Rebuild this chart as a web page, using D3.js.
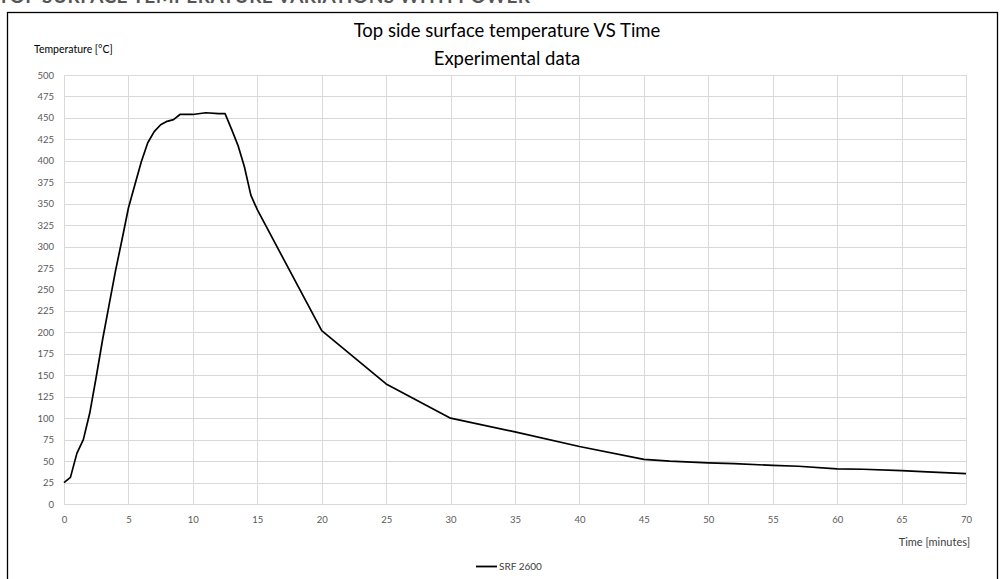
<!DOCTYPE html>
<html><head><meta charset="utf-8">
<script src="https://cdn.jsdelivr.net/npm/d3@7"></script>
<style>body{margin:0;background:#fff}svg{display:block}</style>
</head><body>
<script>
const timeMin = [0,0.5,1,1.5,2,2.5,3,3.5,4,4.5,5,5.5,6,6.5,7,7.5,8,8.5,9,10,11,12,12.5,13,13.5,14,14.5,15,20,25,30,35,40,45,47,50,52,55,57,60,62,65,67,70];
const tempC   = [25,31,59,75,106,148,192,232,272,308,345,372,399,421,434,442,446,448,454,454,456,455,455,437,418,393,360,343,202,140,100,84,67,52,50,48,47,45,44,41,40.5,39,37.5,35.5];
const xTicks = [0,5,10,15,20,25,30,35,40,45,50,55,60,65,70];
const yTicks = [0,25,50,75,100,125,150,175,200,225,250,275,300,325,350,375,400,425,450,475,500];
const titleLines = ["Top side surface temperature VS Time","Experimental data"];
const seriesName = "SRF 2600";

const W=1000,H=579;
const svg=d3.select("body").append("svg").attr("width",W).attr("height",H);
const font="Lato, 'Open Sans', sans-serif";

// cropped heading from the page above (only its lower edge shows)
svg.append("text").attr("x",-2).attr("y",3).attr("font-family",font).attr("font-weight","bold")
  .attr("font-size",19).attr("fill","#555").attr("textLength",532)
  .text("TOP SURFACE TEMPERATURE VARIATIONS WITH POWER");

svg.append("rect").attr("x",7.5).attr("y",12.5).attr("width",990).attr("height",620)
  .attr("fill","none").attr("stroke","#000").attr("stroke-width",1.3);

const x=d3.scaleLinear().domain([0,70]).range([64,966]);
const y=d3.scaleLinear().domain([0,500]).range([504,75]);

const g=svg.append("g");
g.selectAll(".hg").data(yTicks).join("line")
  .attr("x1",x(0)).attr("x2",x(70)).attr("y1",d=>Math.round(y(d))+0.5).attr("y2",d=>Math.round(y(d))+0.5)
  .attr("stroke","#d9d9d9").attr("stroke-width",1);
g.selectAll(".vg").data(xTicks).join("line")
  .attr("y1",y(0)).attr("y2",y(500)).attr("x1",d=>Math.round(x(d))+0.5).attr("x2",d=>Math.round(x(d))+0.5)
  .attr("stroke","#d9d9d9").attr("stroke-width",1);

const yAxis=d3.axisLeft(y).tickValues(yTicks).tickSize(0).tickPadding(10);
const ya=svg.append("g").attr("transform",`translate(${x(0)},0)`).call(yAxis);
const xAxis=d3.axisBottom(x).tickValues(xTicks).tickSize(0).tickPadding(12);
const xa=svg.append("g").attr("transform",`translate(0,${y(0)})`).call(xAxis);
[ya,xa].forEach(a=>{a.select(".domain").attr("stroke","#d9d9d9");
  a.selectAll("text").attr("font-family",font).attr("font-size",9.5).attr("fill","#595959");});

const line=d3.line().x((d,i)=>x(timeMin[i])).y(d=>y(d));
svg.append("path").datum(tempC).attr("d",line).attr("fill","none")
  .attr("stroke","#000").attr("stroke-width",1.7).attr("stroke-linejoin","round");

titleLines.forEach((t,i)=>svg.append("text").attr("x",507).attr("y",37+i*28)
  .attr("text-anchor","middle").attr("font-family",font).attr("font-size",18.5).attr("fill","#000").text(t));
svg.append("text").attr("x",34).attr("y",53).attr("font-family",font).attr("font-size",10.5)
  .attr("fill","#000").text("Temperature [°C]");
svg.append("text").attr("x",970).attr("y",546).attr("text-anchor","end").attr("font-family",font)
  .attr("font-size",11).attr("fill","#404040").text("Time  [minutes]");

svg.append("line").attr("x1",476).attr("x2",497).attr("y1",566.5).attr("y2",566.5)
  .attr("stroke","#000").attr("stroke-width",1.8);
svg.append("text").attr("x",499).attr("y",570).attr("font-family",font).attr("font-size",10)
  .attr("fill","#404040").text(seriesName);
</script>
</body></html>
